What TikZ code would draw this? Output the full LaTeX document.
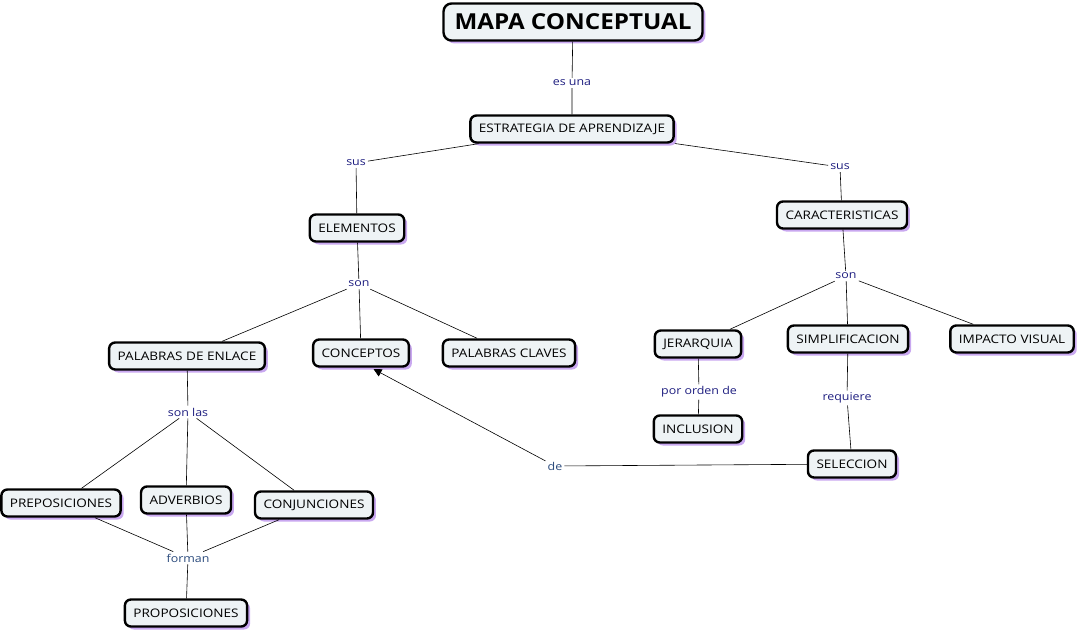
\documentclass[tikz,border=0pt]{standalone}
\usepackage{fontspec}
\setmainfont{Open Sans}
\newfontfamily\conceptfont[FakeStretch=1.15]{Open Sans}
\newfontfamily\titlefont[FakeStretch=1.1]{Open Sans}
\usetikzlibrary{arrows.meta,shadows}

\definecolor{boxfill}{HTML}{EEF3F5}
\definecolor{boxshadow}{HTML}{C9A8F0}
\definecolor{linkblue}{HTML}{1E1E80}
\definecolor{linksteel}{HTML}{2A4A7C}

\begin{document}
\begin{tikzpicture}[x=1pt,y=-1pt,
    concept/.style={draw=black, line width=2.4pt, rounded corners=6pt, fill=boxfill,
      minimum height=27pt, inner xsep=8.5pt, font=\conceptfont\fontsize{11.8}{13}\selectfont,
      drop shadow={shadow xshift=3pt, shadow yshift=-3pt, fill=boxshadow, opacity=1}},
    bigconcept/.style={concept, minimum height=37pt, inner xsep=11pt, rounded corners=8pt,
      font=\titlefont\fontsize{22}{26}\selectfont\bfseries},
    linkword/.style={fill=white, inner sep=2pt, text=linkblue, font=\conceptfont\fontsize{10.8}{12}\selectfont},
    link/.style={draw=black, line width=0.6pt}]
    \useasboundingbox (0,0) rectangle (1081,634);

    % conceptos
    \node[bigconcept] (mapa) at (573,22) {MAPA CONCEPTUAL};
    \node[concept] (estrategia) at (572,129) {ESTRATEGIA DE APRENDIZAJE};
    \node[concept] (elementos) at (357,228) {ELEMENTOS};
    \node[concept] (caracteristicas) at (842,215) {CARACTERISTICAS};
    \node[concept] (palenlace) at (187,356) {PALABRAS DE ENLACE};
    \node[concept] (conceptos) at (361,353) {CONCEPTOS};
    \node[concept] (palclaves) at (509,353) {PALABRAS CLAVES};
    \node[concept] (jerarquia) at (698,344) {JERARQUIA};
    \node[concept] (simplif) at (848,339) {SIMPLIFICACION};
    \node[concept] (impacto) at (1012,339) {IMPACTO VISUAL};
    \node[concept] (inclusion) at (698,429) {INCLUSION};
    \node[concept] (seleccion) at (852,464) {SELECCION};
    \node[concept] (preposiciones) at (61,503) {PREPOSICIONES};
    \node[concept] (adverbios) at (186,500) {ADVERBIOS};
    \node[concept] (conjunciones) at (314,505) {CONJUNCIONES};
    \node[concept] (proposiciones) at (186,613) {PROPOSICIONES};

    % palabras de enlace
    \node[linkword] (esuna) at (572,83) {es una};
    \node[linkword] (susizq) at (356,163) {sus};
    \node[linkword] (susder) at (840,167) {sus};
    \node[linkword] (sonizq) at (359,284) {son};
    \node[linkword] (sonder) at (846,276) {son};
    \node[linkword] (sonlas) at (188,412) {son las};
    \node[linkword] (pororden) at (699,392) {por orden de};
    \node[linkword] (requiere) at (847,398) {requiere};
    \node[linkword, text=linksteel] (de) at (555,466) {de};
    \node[linkword, text=linksteel] (forman) at (188,558) {forman};

    % conectores
    \draw[link] (mapa) -- (esuna) -- (estrategia);
    \draw[link] (estrategia) -- (susizq) -- (elementos);
    \draw[link] (estrategia) -- (susder) -- (caracteristicas);
    \draw[link] (elementos) -- (sonizq);
    \foreach \t in {palenlace,conceptos,palclaves}
      \draw[link] (sonizq) -- (\t);
    \draw[link] (caracteristicas) -- (sonder);
    \foreach \t in {jerarquia,simplif,impacto}
      \draw[link] (sonder) -- (\t);
    \draw[link] (jerarquia) -- (pororden) -- (inclusion);
    \draw[link] (simplif) -- (requiere) -- (seleccion);
    \draw[link] (palenlace) -- (sonlas);
    \foreach \t in {preposiciones,adverbios,conjunciones}
      \draw[link] (sonlas) -- (\t);
    \foreach \t in {preposiciones,adverbios,conjunciones}
      \draw[link] (\t) -- (forman);
    \draw[link] (forman) -- (proposiciones);
    \draw[link] (seleccion) -- (de);
    \draw[link, -{Triangle[length=8pt,width=8pt]}, shorten >=3pt] (de) -- (conceptos.304);
\end{tikzpicture}
\end{document}
